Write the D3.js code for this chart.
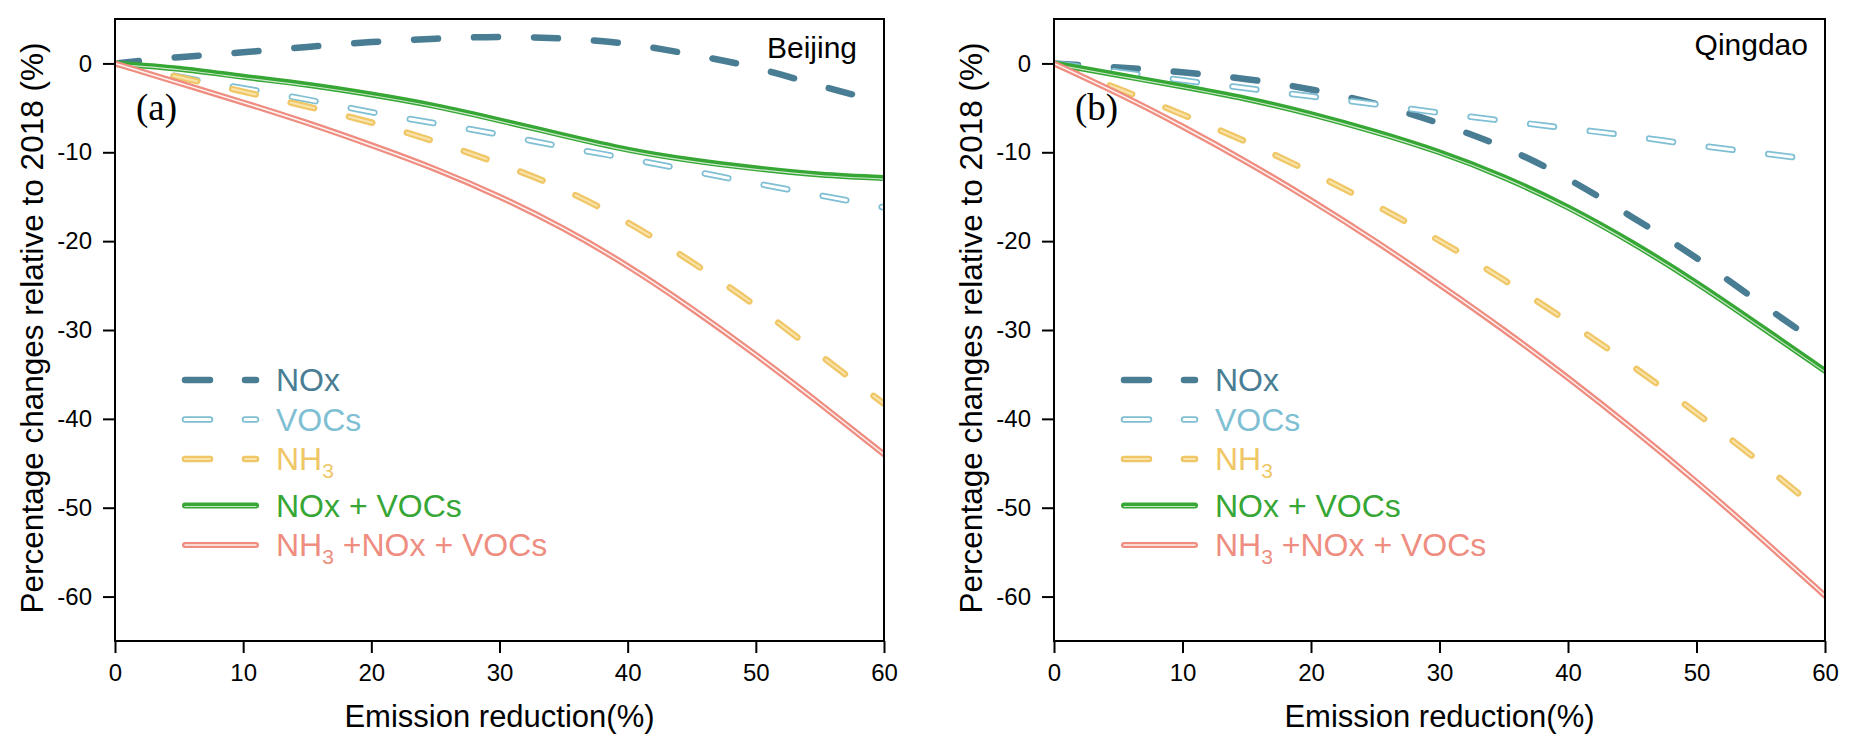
<!DOCTYPE html>
<html>
<head>
<meta charset="utf-8">
<script src="https://cdn.jsdelivr.net/npm/d3@7"></script>
<style>
  html, body { margin: 0; padding: 0; background: #fff; }
  svg text { font-family: Arial, "Liberation Sans", sans-serif; }
</style>
</head>
<body>
<svg id="chart" width="1857" height="754"></svg>
<script>
// ---------------- DATA ----------------
const reduction = [0, 5, 10, 15, 20, 25, 30, 35, 40, 45, 50, 55, 60];

// Beijing
const bjNOx      = [0, 0.7, 1.25, 1.85, 2.4, 2.78, 2.98, 2.8, 2.2, 1.0, -0.5, -2.5, -4.4];
const bjVOCs     = [0, -1.5, -2.8, -4.07, -5.48, -6.75, -8.0, -9.4, -10.7, -12.1, -13.5, -14.85, -16.2];
const bjNH3      = [0, -1.55, -3.17, -4.85, -6.65, -8.8, -11.3, -14.2, -17.9, -22.35, -27.3, -32.8, -38.3];
const bjNOxVOCs  = [0, -0.6, -1.5, -2.4, -3.5, -4.8, -6.4, -8.1, -9.7, -10.9, -11.8, -12.5, -12.9];
const bjAll      = [0, -2.2, -4.4, -6.7, -9.2, -11.9, -15.0, -18.6, -22.8, -27.6, -32.8, -38.3, -44.0];

// Qingdao
const qdNOx      = [0, -0.45, -1.0, -1.77, -2.93, -4.55, -6.75, -9.45, -13.0, -17.3, -21.9, -27.0, -32.0];
const qdVOCs     = [0, -0.95, -1.9, -2.8, -3.7, -4.6, -5.55, -6.45, -7.3, -8.2, -9.2, -10.1, -11.0];
const qdNH3      = [0, -2.85, -5.75, -8.85, -12.25, -15.95, -19.95, -24.35, -29.05, -34.05, -39.35, -44.95, -50.85];
const qdNOxVOCs  = [0, -1.3, -2.6, -4.0, -5.7, -7.7, -10.0, -12.8, -16.2, -20.2, -24.7, -29.6, -34.6];
const qdAll      = [0, -3.4, -7.1, -11.1, -15.4, -20.0, -24.9, -30.0, -35.4, -41.1, -47.1, -53.4, -59.9];

const xTicks = [0, 10, 20, 30, 40, 50, 60];
const yTicks = [-60, -50, -40, -30, -20, -10, 0];
const seriesNames = ["NOx", "VOCs", "NH3", "NOx + VOCs", "NH3 +NOx + VOCs"];
const panelCities = ["Beijing", "Qingdao"];
const panelTags = ["(a)", "(b)"];
const xLabel = "Emission reduction(%)";
const yLabel = "Percentage changes relative to 2018 (%)";

// ---------------- STYLES ----------------
const styles = [
  { color: "#497d93", w: 6.5, dash: "24 36", inner: null },
  { color: "#7fbfd3", w: 6.5, dash: "24 36", inner: { color: "#ffffff", w: 3 } },
  { color: "#f0c766", w: 6.5, dash: "24 36", inner: { color: "#f9e4ad", w: 2 } },
  { color: "#36a635", w: 6,   dash: null,    inner: { color: "#ffffff", w: 1.2, op: 0.75, dy: 1 } },
  { color: "#ee8d80", w: 6,   dash: null,    inner: { color: "#ffffff", w: 1.5, op: 0.9 } }
];

const panels = [
  { left: 115, right: 884, top: 19, bottom: 641, city: panelCities[0], tag: panelTags[0],
    cityX: 857, cityY: 58, series: [bjNOx, bjVOCs, bjNH3, bjNOxVOCs, bjAll] },
  { left: 1054, right: 1825, top: 19, bottom: 641, city: panelCities[1], tag: panelTags[1],
    cityX: 1808, cityY: 55, series: [qdNOx, qdVOCs, qdNH3, qdNOxVOCs, qdAll] }
];

const svg = d3.select("#chart");
const legendRows = [380, 419.5, 459, 505.5, 545];

panels.forEach((p, pi) => {
  const x = d3.scaleLinear().domain([0, 60]).range([p.left, p.right]);
  const y = d3.scaleLinear().domain([-65, 5]).range([p.bottom, p.top]);
  const g = svg.append("g");

  const clipId = "clip" + pi;
  svg.append("clipPath").attr("id", clipId).append("rect")
    .attr("x", p.left).attr("y", p.top)
    .attr("width", p.right - p.left).attr("height", p.bottom - p.top);

  // axes
  const ax = g.append("g").attr("transform", `translate(0,${p.bottom})`)
    .call(d3.axisBottom(x).tickValues(xTicks).tickSize(12).tickPadding(11).tickFormat(d3.format("d")));
  const ay = g.append("g").attr("transform", `translate(${p.left},0)`)
    .call(d3.axisLeft(y).tickValues(yTicks).tickSize(12).tickPadding(11).tickFormat(d3.format("d")));
  [ax, ay].forEach(a => {
    a.select(".domain").remove();
    a.selectAll(".tick line").attr("stroke", "#000").attr("stroke-width", 2);
    a.selectAll(".tick text").attr("fill", "#000").style("font-size", "24px")
      .style("font-family", "Arial, 'Liberation Sans', sans-serif");
  });
  ay.selectAll(".tick text").text(d => String(d).replace("\u2212", "-"));

  // lines
  const line = d3.line().x((d, i) => x(reduction[i])).y(d => y(d)).curve(d3.curveNatural);
  const lg = g.append("g").attr("clip-path", `url(#${clipId})`);
  p.series.forEach((vals, si) => {
    const s = styles[si];
    lg.append("path").datum(vals).attr("d", line)
      .attr("fill", "none").attr("stroke", s.color).attr("stroke-width", s.w)
      .attr("stroke-linecap", "round").attr("stroke-linejoin", "round")
      .attr("stroke-dasharray", s.dash);
    if (s.inner) {
      lg.append("path").datum(vals).attr("d", line)
        .attr("transform", s.inner.dy ? `translate(0,${s.inner.dy})` : null)
        .attr("fill", "none").attr("stroke", s.inner.color).attr("stroke-width", s.inner.w)
        .attr("stroke-opacity", s.inner.op || 1)
        .attr("stroke-linecap", "round").attr("stroke-linejoin", "round")
        .attr("stroke-dasharray", s.dash);
    }
  });

  // frame
  g.append("rect").attr("x", p.left).attr("y", p.top)
    .attr("width", p.right - p.left).attr("height", p.bottom - p.top)
    .attr("fill", "none").attr("stroke", "#000").attr("stroke-width", 2);

  // city label
  g.append("text").attr("x", p.cityX).attr("y", p.cityY).attr("text-anchor", "end")
    .style("font-size", "30px").attr("fill", "#000").text(p.city);
  // panel tag
  g.append("text").attr("x", p.left + 21).attr("y", 120)
    .style("font-family", "'Times New Roman', 'Liberation Serif', serif")
    .style("font-size", "37px").attr("fill", "#000").text(p.tag);

  // axis titles
  g.append("text").attr("x", (p.left + p.right) / 2).attr("y", 727)
    .attr("text-anchor", "middle").style("font-size", "31px").attr("fill", "#000").text(xLabel);
  g.append("text").attr("transform", `translate(${p.left - 72},${(p.top + p.bottom) / 2 - 2}) rotate(-90)`)
    .attr("text-anchor", "middle").style("font-size", "31.5px").attr("fill", "#000").text(yLabel);

  // legend
  const lx0 = p.left + 70, lx1 = p.left + 141, tx = p.left + 161;
  seriesNames.forEach((name, si) => {
    const s = styles[si];
    const ly = legendRows[si];
    const lgd = g.append("g");
    const seg = [[lx0, ly], [lx1, ly]];
    lgd.append("path").attr("d", d3.line()(seg)).attr("fill", "none")
      .attr("stroke", s.color).attr("stroke-width", s.w)
      .attr("stroke-linecap", "round").attr("stroke-dasharray", s.dash ? "25 35" : null);
    if (s.inner) {
      lgd.append("path").attr("d", d3.line()(seg)).attr("fill", "none")
        .attr("transform", s.inner.dy ? `translate(0,${s.inner.dy})` : null)
        .attr("stroke", s.inner.color).attr("stroke-width", s.inner.w)
        .attr("stroke-opacity", s.inner.op || 1)
        .attr("stroke-linecap", "round").attr("stroke-dasharray", s.dash ? "25 35" : null);
    }
    const t = lgd.append("text").attr("x", tx).attr("y", ly + 11)
      .style("font-size", "32px").attr("fill", s.color);
    if (name.startsWith("NH3")) {
      t.append("tspan").text("NH");
      t.append("tspan").text("3").style("font-size", "21px").attr("dy", 8);
      t.append("tspan").text(name.slice(3)).attr("dy", -8);
    } else {
      t.text(name);
    }
  });
});
</script>
</body>
</html>
